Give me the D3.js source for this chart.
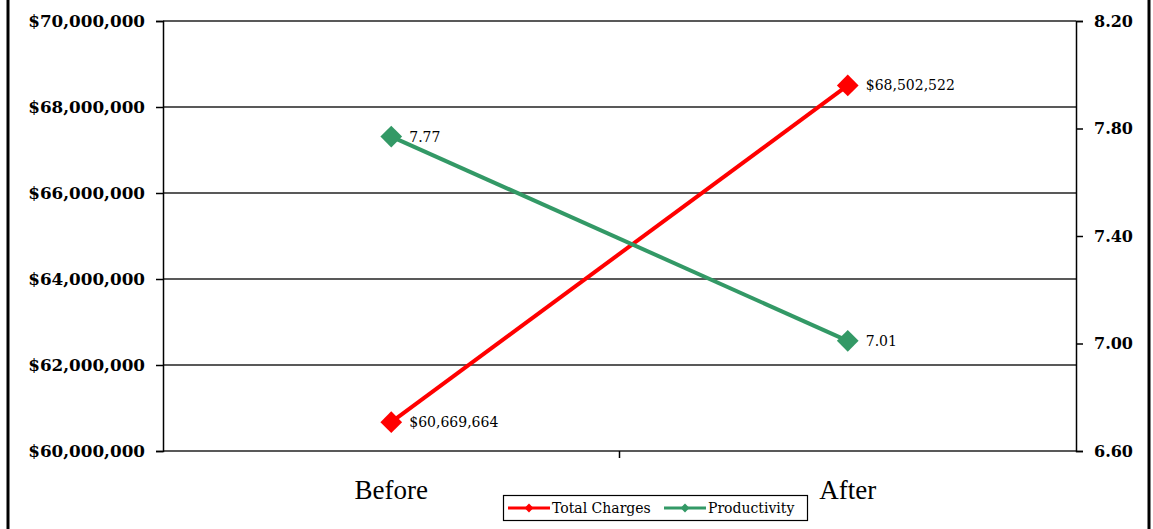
<!DOCTYPE html>
<html>
<head>
<meta charset="utf-8">
<script src="https://cdn.jsdelivr.net/npm/d3@7"></script>
<style>
  body { margin: 0; background: #fff; }
  svg { display: block; }
</style>
</head>
<body>
<svg id="chart" width="1153" height="529"></svg>
<script>
const categories = ['Before', 'After'];
const totalCharges = [60669664, 68502522];
const productivity = [7.77, 7.01];
const leftTicks = [60000000, 62000000, 64000000, 66000000, 68000000, 70000000];
const rightTicks = [6.6, 7.0, 7.4, 7.8, 8.2];
const seriesNames = ['Total Charges', 'Productivity'];

const svg = d3.select('#chart');
const margin = { left: 163, right: 1076, top: 21, bottom: 451 };
const red = '#ff0000', green = '#339966';
const axisFont = '"DejaVu Serif", serif';
const labelFont = '"DejaVu Serif", serif';

// frame lines at left and right edges
svg.append('line').attr('x1', 8).attr('x2', 8).attr('y1', 0).attr('y2', 529)
    .attr('stroke', '#000').attr('stroke-width', 3);
svg.append('line').attr('x1', 1149).attr('x2', 1149).attr('y1', 0).attr('y2', 529)
    .attr('stroke', '#000').attr('stroke-width', 3);

const x = d3.scaleBand()
    .domain(categories)
    .range([margin.left, margin.right]);

const yL = d3.scaleLinear()
    .domain([60000000, 70000000])
    .range([margin.bottom, margin.top]);

const yR = d3.scaleLinear()
    .domain([6.6, 8.2])
    .range([margin.bottom, margin.top]);

// gridlines
svg.append('g')
    .selectAll('line')
    .data(leftTicks)
    .join('line')
    .attr('x1', margin.left)
    .attr('x2', margin.right)
    .attr('y1', d => yL(d))
    .attr('y2', d => yL(d))
    .attr('stroke', '#222')
    .attr('stroke-width', 1.3);

const fmtL = d => '$' + d3.format(',')(d);

const leftAxis = svg.append('g')
    .attr('transform', `translate(${margin.left},0)`)
    .call(d3.axisLeft(yL).tickValues(leftTicks).tickFormat(fmtL).tickSize(7).tickPadding(11));

const rightAxis = svg.append('g')
    .attr('transform', `translate(${margin.right},0)`)
    .call(d3.axisRight(yR).tickValues(rightTicks).tickFormat(d3.format('.2f')).tickSize(7).tickPadding(11));

const bottomAxis = svg.append('g')
    .attr('transform', `translate(0,${margin.bottom})`)
    .call(d3.axisBottom(x).tickSize(0).tickPadding(29));

// category boundary tick
svg.append('line')
    .attr('x1', x('After')).attr('x2', x('After'))
    .attr('y1', margin.bottom).attr('y2', margin.bottom + 7)
    .attr('stroke', '#000').attr('stroke-width', 1.5);

[leftAxis, rightAxis].forEach(g => {
    g.selectAll('path').attr('stroke', '#000').attr('stroke-width', 1.5);
    g.selectAll('line').attr('stroke', '#000').attr('stroke-width', 1.5);
    g.selectAll('text')
        .attr('font-family', axisFont)
        .attr('font-weight', 'bold')
        .attr('font-size', 16.8)
        .attr('fill', '#000');
});
rightAxis.selectAll('text').attr('font-size', 16);
bottomAxis.select('path').remove();
bottomAxis.selectAll('text')
    .attr('font-family', '"Liberation Serif", "Times New Roman", serif')
    .attr('font-size', 27)
    .attr('fill', '#000');

const cx = d => x(d) + x.bandwidth() / 2;
const diamond = d3.symbol().type(d3.symbolDiamond2).size(300);

function drawSeries(values, yScale, color, fmt) {
    const pts = categories.map((c, i) => [cx(c), yScale(values[i])]);
    svg.append('path')
        .datum(pts)
        .attr('d', d3.line())
        .attr('fill', 'none')
        .attr('stroke', color)
        .attr('stroke-width', 4);
    svg.append('g')
        .selectAll('path')
        .data(pts)
        .join('path')
        .attr('transform', d => `translate(${d[0]},${d[1]})`)
        .attr('d', diamond)
        .attr('fill', color);
    svg.append('g')
        .selectAll('text')
        .data(values)
        .join('text')
        .attr('x', (d, i) => pts[i][0] + 18)
        .attr('y', (d, i) => pts[i][1] + 5)
        .attr('font-family', labelFont)
        .attr('font-size', 14)
        .attr('fill', '#000')
        .text(fmt);
}

drawSeries(totalCharges, yL, red, d => '$' + d3.format(',')(d));
drawSeries(productivity, yR, green, d3.format('.2f'));

// legend
const legend = svg.append('g');
legend.append('rect')
    .attr('x', 503.5).attr('y', 495.5)
    .attr('width', 304).attr('height', 25)
    .attr('fill', '#fff').attr('stroke', '#000').attr('stroke-width', 1.2);

const legendX = [508, 664];
const legendColors = [red, green];
seriesNames.forEach((name, i) => {
    const lx = legendX[i];
    legend.append('line')
        .attr('x1', lx).attr('x2', lx + 42)
        .attr('y1', 508).attr('y2', 508)
        .attr('stroke', legendColors[i]).attr('stroke-width', 3);
    legend.append('path')
        .attr('transform', `translate(${lx + 21},508)`)
        .attr('d', d3.symbol().type(d3.symbolDiamond2).size(50))
        .attr('fill', legendColors[i]);
    legend.append('text')
        .attr('x', lx + 44).attr('y', 513)
        .attr('font-family', labelFont)
        .attr('font-size', 14)
        .attr('fill', '#000')
        .text(name);
});
</script>
</body>
</html>
